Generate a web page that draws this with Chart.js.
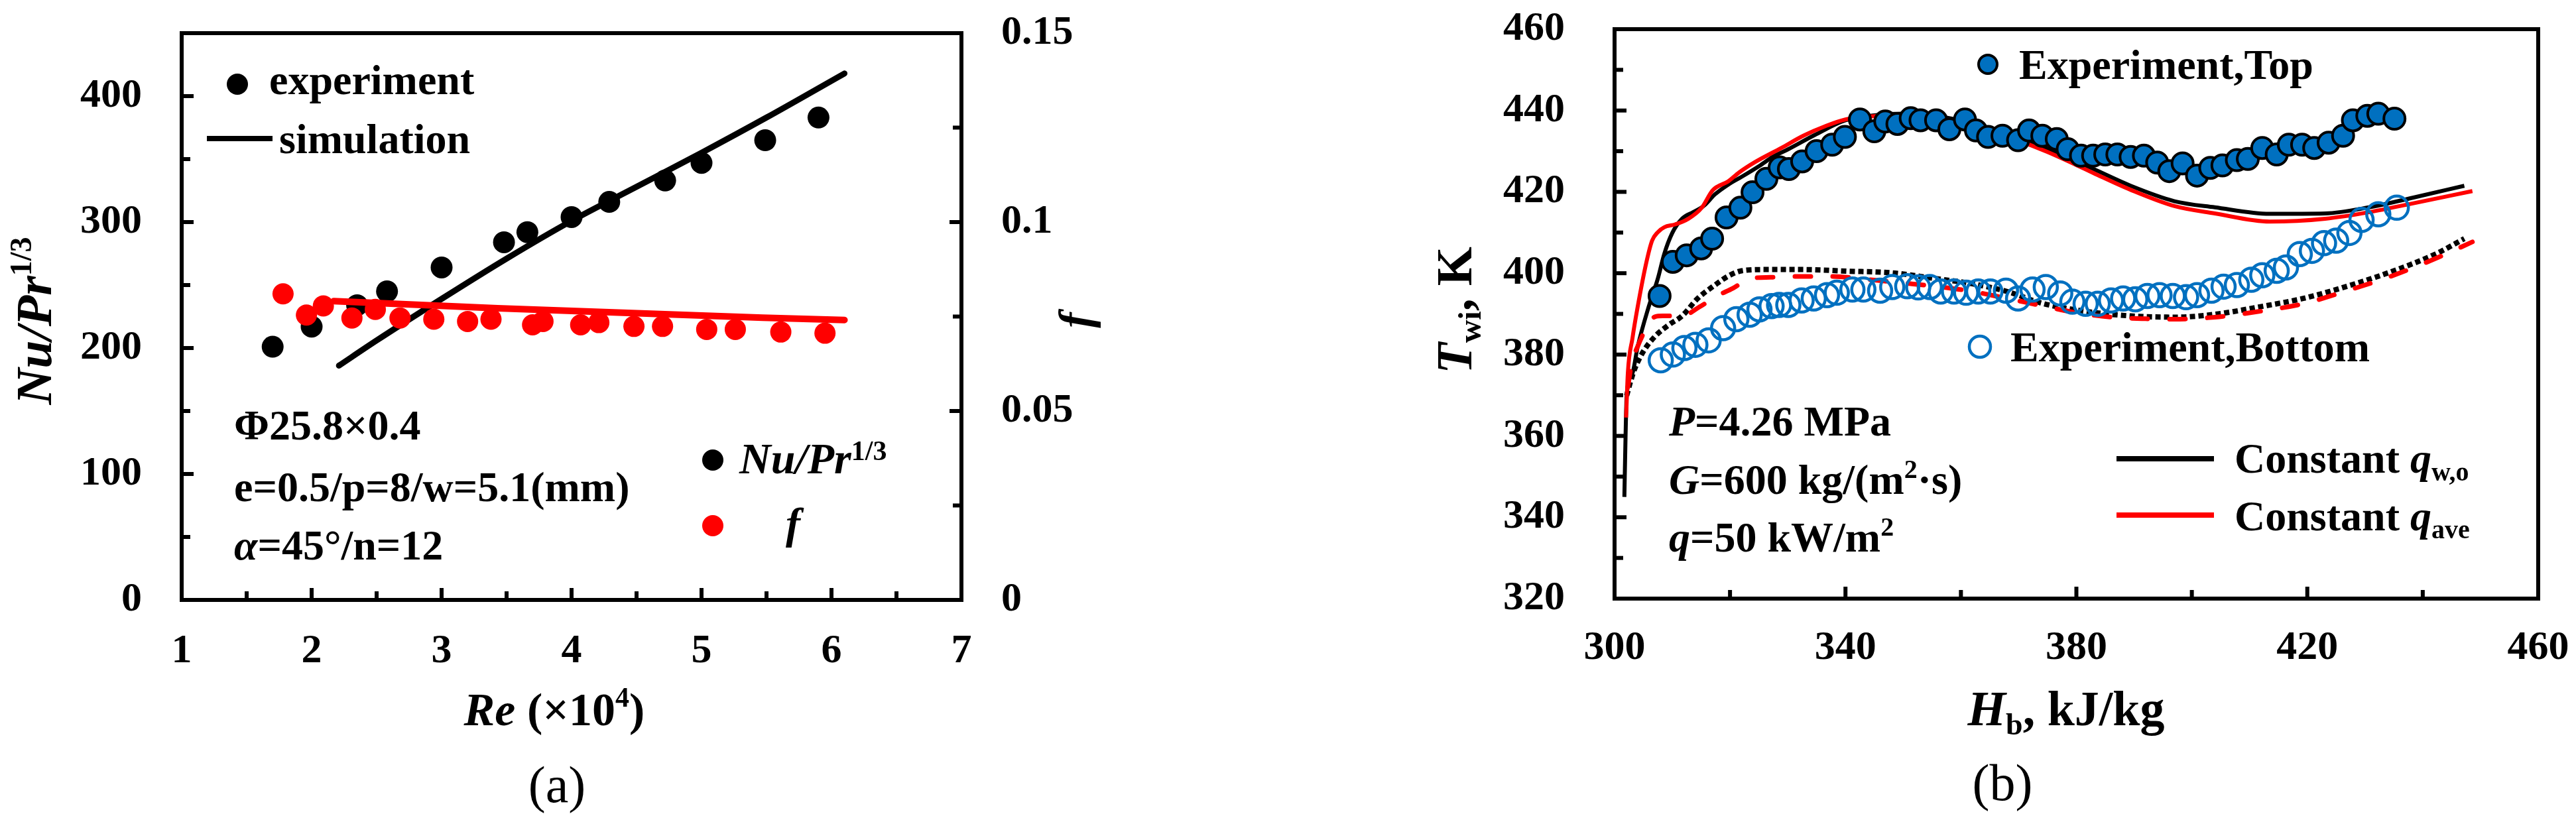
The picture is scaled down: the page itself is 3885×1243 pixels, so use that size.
<!DOCTYPE html>
<html><head><meta charset="utf-8">
<script src="https://cdn.jsdelivr.net/npm/chart.js@4.4.1/dist/chart.umd.min.js"></script>
<style>
html,body{margin:0;padding:0;background:#fff;width:3885px;height:1243px;overflow:hidden}
#wa{position:absolute;left:0;top:0;width:1940px;height:1243px}
#wb{position:absolute;left:1940px;top:0;width:1945px;height:1243px}
</style></head><body>
<div id="wa"><canvas id="ca"></canvas></div>
<div id="wb"><canvas id="cb"></canvas></div>
<script>
// ---------- Panel (a) data ----------
const aExpRe = [1.70, 2.00, 2.35, 2.58, 3.00, 3.48, 3.66, 4.00, 4.29, 4.72, 5.00, 5.49, 5.90];
const aExpNu = [201, 217, 234, 245, 264, 284, 292, 304, 316, 333, 347, 365, 383];
const aSimRe = [2.21, 2.50, 3.00, 3.50, 4.00, 4.50, 5.00, 5.50, 6.10];
const aSimNu = [186, 206, 239, 271, 301, 328, 355, 383, 418];
const aFRe = [1.78, 1.96, 2.09, 2.31, 2.49, 2.68, 2.94, 3.20, 3.38, 3.70, 3.78, 4.07, 4.21, 4.48, 4.70, 5.04, 5.26, 5.61, 5.95];
const aF   = [0.0810, 0.0754, 0.0778, 0.0746, 0.0769, 0.0746, 0.0743, 0.0737, 0.0743, 0.0728, 0.0737, 0.0728, 0.0734, 0.0724, 0.0724, 0.0716, 0.0716, 0.0709, 0.0706];
const aSimFRe = [2.17, 3.43, 5.47, 6.10];
const aSimF   = [0.0791, 0.0772, 0.0747, 0.0741];
const aXMajor = [1, 2, 3, 4, 5, 6, 7];
const aXMinor = [1.5, 2.5, 3.5, 4.5, 5.5, 6.5];
const aYMajor = [0, 100, 200, 300, 400];
const aYMinor = [50, 150, 250, 350, 450];
const aY1Major = [0, 0.05, 0.1, 0.15];
const aY1Labels = ['0', '0.05', '0.1', '0.15'];
const aY1Minor = [0.025, 0.075, 0.125];

// ---------- Panel (b) data ----------
const bTopH = [307.8,310.1,312.5,315.0,316.9,319.4,321.8,323.9,326.3,328.6,330.2,332.5,335.0,337.7,339.9,342.5,345.0,346.9,349.0,351.3,353.0,355.7,358.0,360.7,362.6,364.7,367.2,369.9,371.8,374.1,376.6,378.5,380.8,382.9,385.0,387.1,389.4,391.7,394.0,396.1,398.4,400.9,403.2,405.3,407.8,409.7,412.2,414.7,416.8,419.1,421.2,423.7,426.2,427.9,430.4,432.3,435.1];
const bTopT = [394.4,402.8,404.4,406.1,408.5,413.7,416.1,419.9,423.2,426.0,425.6,427.5,430.0,431.6,433.5,437.8,434.9,437.3,436.7,438.1,437.6,437.6,435.4,437.8,435.1,433.5,433.8,432.7,435.1,433.8,433.0,430.5,428.9,428.9,429.2,429.2,428.6,428.9,427.2,425.1,427.0,424.0,425.9,426.5,427.8,428.1,430.8,429.2,431.6,431.6,430.8,432.1,433.8,437.6,438.7,439.2,438.0];
const bBotH = [308.0,310.1,312.1,314.0,316.3,318.8,321.1,323.4,325.1,327.2,328.5,330.1,332.4,334.5,336.8,338.5,341.2,343.1,346.0,348.1,350.7,352.6,354.6,356.5,358.8,360.9,363.0,365.1,367.8,369.9,372.4,374.7,377.2,379.3,381.6,383.7,386.0,388.1,390.2,392.3,394.4,396.7,399.0,400.9,403.4,405.5,407.8,410.3,412.2,414.7,416.3,418.7,420.8,422.9,425.0,427.3,429.4,432.3,435.5];
const bBotT = [378.6,380.0,381.6,382.4,383.5,386.5,388.7,389.8,391.1,391.9,392.2,392.2,393.3,393.8,394.6,395.2,396.0,396.0,395.7,396.6,396.8,396.5,396.6,395.5,395.5,395.2,395.5,395.5,395.7,393.8,396.0,396.6,395.0,393.0,392.5,392.5,393.3,393.8,393.6,394.4,394.6,394.4,394.1,394.6,395.7,396.7,397.1,398.4,399.5,400.6,401.4,404.7,405.5,407.4,408.0,409.9,413.1,414.5,416.1];
const bQwTopH = [301.7,301.9,302.1,303.1,304.0,305.9,307.5,308.6,310.0,311.7,313.6,315.5,317.4,319.7,322.0,325.1,327.4,330.1,334.7,340.0,345,350,355,360,365,370,375,380,383,389.4,397.0,404.0,413.5,423.1,430.7,438.4,447.2];
const bQwTopT = [345.0,359.6,369.9,375.4,381.9,391.7,398.7,404.7,409.9,413.4,415.0,416.6,419.4,421.8,423.7,426.4,428.6,430.5,434.0,437.6,438.8,439.2,438.8,437.5,435.5,433.2,430.6,427.5,425.6,421.5,417.7,416.2,414.6,414.7,416.2,418.6,421.5];
const bQaTopH = [302.0,302.3,303.1,304.0,305.5,306.5,307.5,308.6,310.5,312.8,315.1,317.0,319.7,321.6,324.3,328.9,332.7,336.6,340.0,345,350,355,360,365,370,375,380,383,389.4,397.0,404.0,413.5,423.1,430.7,438.4,448.6];
const bQaTopT = [364.5,375.4,384.0,391.7,402.6,408.0,410.1,411.3,412.0,413.4,416.1,420.4,422.6,424.8,427.3,430.8,433.8,436.2,437.8,438.6,438.9,438.4,437.1,435.0,432.6,429.8,426.6,424.6,420.5,416.5,414.7,412.7,413.4,415.0,417.2,420.2];
const bQwBotH = [302.1,302.8,303.5,305.0,307.1,309.4,311.7,314.4,317.4,319.7,322.0,325.8,332.7,340.4,348.0,355,362,368,374.1,381.7,389.4,397.1,404.0,411.6,419.3,426.9,434.6,442.2,447.2];
const bQwBotT = [369.9,373.5,376.5,380.8,384.6,387.3,389.5,393.8,397.1,399.3,400.6,400.9,400.9,400.5,400.1,398.8,397.4,395.5,392.6,390.6,389.5,389.2,389.9,391.7,393.8,396.8,400.4,404.7,408.5];
const bQaBotH = [302.3,303.0,304.0,305.7,307.0,308.4,311.9,314.7,317.6,320.5,323.5,327.0,330.4,337.3,345,350,356,362,368,374,380,386,392,397,404.0,411.6,419.3,426.9,434.6,442.2,448.6];
const bQaBotT = [372,378,382,387,389.3,389.5,389.6,391.7,394.3,396.3,398.7,399.0,399.2,399.2,398.3,397.6,396.7,395.5,393.8,392,390.3,389.2,388.8,388.7,389.2,390.6,392.5,395.7,399.3,403.6,407.7];
const bXMajor = [300, 340, 380, 420, 460];
const bXMinor = [320, 360, 400, 440];
const bYMajor = [320, 340, 360, 380, 400, 420, 440, 460];
const bYMinor = [330, 350, 370, 390, 410, 430, 450];

// ---------- helpers ----------
const FAM = '"Liberation Serif", "Times New Roman", Times, serif';
const fnt = (st, sz) => `${st} ${sz}px ${FAM}`;
const RED = '#FF0000', BLUE = '#0070C0', BLK = '#000000';
const pts = (xs, ys) => xs.map((x, i) => ({x: x, y: ys[i]}));
const merged = (a, b) => a.concat(b).sort((p, q) => p - q);

function richWidth(ctx, segs) {
  let w = 0;
  for (const s of segs) { ctx.font = s.f; w += ctx.measureText(s.t).width; }
  return w;
}
function drawRich(ctx, segs, x, y, align) {
  let sx = x;
  if (align === 'center') sx = x - richWidth(ctx, segs) / 2;
  ctx.textAlign = 'left';
  ctx.textBaseline = 'alphabetic';
  for (const s of segs) {
    ctx.font = s.f;
    ctx.fillText(s.t, sx, y + (s.dy || 0));
    sx += ctx.measureText(s.t).width;
  }
}
function drawRotRich(ctx, segs, cx, cy) {
  ctx.save();
  ctx.translate(cx, cy);
  ctx.rotate(-Math.PI / 2);
  drawRich(ctx, segs, 0, 0, 'center');
  ctx.restore();
}
function dot(ctx, x, y, r, fill, stroke, lw) {
  ctx.beginPath();
  ctx.arc(x, y, r, 0, Math.PI * 2);
  if (fill) { ctx.fillStyle = fill; ctx.fill(); }
  if (stroke) { ctx.strokeStyle = stroke; ctx.lineWidth = lw; ctx.stroke(); }
}
function frameAndTicks(chart, spec) {
  const ctx = chart.ctx, a = chart.chartArea;
  ctx.save();
  ctx.strokeStyle = BLK;
  ctx.lineWidth = 6;
  for (const s of spec) {
    const sc = chart.scales[s.id];
    const groups = [[s.major, 18], [s.minor, 13]];
    for (const [vals, len] of groups) {
      for (const v of vals) {
        if (v === sc.min || v === sc.max) continue;
        const p = sc.getPixelForValue(v);
        ctx.beginPath();
        if (s.side === 'bottom') { ctx.moveTo(p, a.bottom); ctx.lineTo(p, a.bottom - len); }
        else if (s.side === 'left') { ctx.moveTo(a.left, p); ctx.lineTo(a.left + len, p); }
        else { ctx.moveTo(a.right, p); ctx.lineTo(a.right - len, p); }
        ctx.stroke();
      }
    }
  }
  ctx.lineJoin = 'miter';
  ctx.strokeRect(a.left, a.top, a.right - a.left, a.bottom - a.top);
  ctx.restore();
}
function tickFont() { return {family: FAM, size: 62, weight: 'bold'}; }
// fix an axis box to a given size and drop the label overflow padding
function fixBox(w, h) {
  return s => {
    if (w !== null) s.width = w;
    if (h !== null) s.height = h;
    s.paddingTop = 0; s.paddingBottom = 0; s.paddingLeft = 0; s.paddingRight = 0;
  };
}

Chart.defaults.animation = false;

// ---------- Chart (a) ----------
const decorA = {
  id: 'decorA',
  afterDraw(chart) {
    frameAndTicks(chart, [
      {id: 'x', side: 'bottom', major: aXMajor, minor: aXMinor},
      {id: 'y', side: 'left', major: aYMajor, minor: aYMinor},
      {id: 'y1', side: 'right', major: aY1Major, minor: aY1Minor}
    ]);
    const ctx = chart.ctx;
    ctx.save();
    ctx.fillStyle = BLK;
    // legend 1
    dot(ctx, 358, 127, 16, BLK);
    ctx.fillStyle = BLK;
    drawRich(ctx, [{t: 'experiment', f: fnt('bold', 64)}], 406, 142);
    ctx.strokeStyle = BLK; ctx.lineWidth = 8; ctx.beginPath(); ctx.moveTo(312, 209); ctx.lineTo(411, 209); ctx.stroke();
    drawRich(ctx, [{t: 'simulation', f: fnt('bold', 64)}], 421, 231);
    // geometry notes
    drawRich(ctx, [{t: '\u03A625.8\u00D70.4', f: fnt('bold', 64)}], 353, 663);
    drawRich(ctx, [{t: 'e=0.5/p=8/w=5.1(mm)', f: fnt('bold', 64)}], 353, 756);
    drawRich(ctx, [{t: '\u03B1', f: fnt('bold italic', 64)}, {t: '=45\u00B0/n=12', f: fnt('bold', 64)}], 353, 844);
    // legend 2
    dot(ctx, 1075, 694, 16, BLK);
    ctx.fillStyle = BLK;
    drawRich(ctx, [{t: 'Nu/Pr', f: fnt('bold italic', 66)}, {t: '1/3', f: fnt('bold', 42), dy: -20}], 1115, 714);
    dot(ctx, 1075, 793, 16, RED);
    ctx.fillStyle = BLK;
    drawRich(ctx, [{t: 'f', f: fnt('bold italic', 66)}], 1185, 812);
    // axis titles
    drawRotRich(ctx, [{t: 'Nu/Pr', f: fnt('bold italic', 76)}, {t: '1/3', f: fnt('bold', 46), dy: -30}], 77, 484);
    drawRotRich(ctx, [{t: 'f', f: fnt('bold italic', 70)}], 1645, 483);
    drawRich(ctx, [{t: 'Re', f: fnt('bold italic', 70)}, {t: ' (\u00D710', f: fnt('bold', 70)}, {t: '4', f: fnt('bold', 42), dy: -28}, {t: ')', f: fnt('bold', 70)}], 836, 1094, 'center');
    drawRich(ctx, [{t: '(a)', f: fnt('normal', 78)}], 840, 1210, 'center');
    ctx.restore();
  }
};

new Chart(document.getElementById('ca'), {
  type: 'scatter',
  data: {datasets: [
    {label: 'f simulation', data: pts(aSimFRe, aSimF), yAxisID: 'y1', showLine: true, borderColor: RED, borderWidth: 10, borderCapStyle: 'round', pointRadius: 0, pointHitRadius: 0, order: 0},
    {label: 'f', data: pts(aFRe, aF), yAxisID: 'y1', pointRadius: 16, backgroundColor: RED, borderColor: RED, pointBorderWidth: 0, order: 1},
    {label: 'simulation', data: pts(aSimRe, aSimNu), yAxisID: 'y', showLine: true, borderColor: BLK, borderWidth: 9, borderCapStyle: 'round', cubicInterpolationMode: 'monotone', pointRadius: 0, pointHitRadius: 0, order: 2},
    {label: 'experiment', data: pts(aExpRe, aExpNu), yAxisID: 'y', pointRadius: 16.5, backgroundColor: BLK, borderColor: BLK, pointBorderWidth: 0, order: 3}
  ]},
  options: {
    responsive: true, maintainAspectRatio: false, devicePixelRatio: 1, events: [],
    layout: {padding: {top: 50, left: 0, right: 0, bottom: 0}, autoPadding: false},
    plugins: {legend: {display: false}, tooltip: {enabled: false}},
    scales: {
      x: {type: 'linear', position: 'bottom', min: 1, max: 7,
        afterBuildTicks: s => { s.ticks = merged(aXMajor, aXMinor).map(v => ({value: v})); },
        ticks: {callback: v => aXMajor.includes(v) ? String(v) : '', font: tickFont(), color: BLK, padding: 41, autoSkip: false, maxRotation: 0, minRotation: 0},
        grid: {display: false, drawTicks: false}, border: {display: false},
        afterFit: fixBox(null, 338)},
      y: {type: 'linear', position: 'left', min: 0, max: 450,
        afterBuildTicks: s => { s.ticks = merged(aYMajor, aYMinor).map(v => ({value: v})); },
        ticks: {callback: v => aYMajor.includes(v) ? String(v) : '', font: tickFont(), color: BLK, padding: 60, autoSkip: false},
        grid: {display: false, drawTicks: false}, border: {display: false},
        afterFit: fixBox(274, null)},
      y1: {type: 'linear', position: 'right', min: 0, max: 0.15,
        afterBuildTicks: s => { s.ticks = merged(aY1Major, aY1Minor).map(v => ({value: v})); },
        ticks: {callback: v => { const i = aY1Major.indexOf(v); return i >= 0 ? aY1Labels[i] : ''; }, font: tickFont(), color: BLK, padding: 60, autoSkip: false},
        grid: {display: false, drawTicks: false}, border: {display: false},
        afterFit: fixBox(490, null)}
    }
  },
  plugins: [decorA]
});

// ---------- Chart (b) ----------
const decorB = {
  id: 'decorB',
  afterDraw(chart) {
    frameAndTicks(chart, [
      {id: 'x', side: 'bottom', major: bXMajor, minor: bXMinor},
      {id: 'y', side: 'left', major: bYMajor, minor: bYMinor}
    ]);
    const ctx = chart.ctx;
    ctx.save();
    // legends for experiments
    dot(ctx, 1058, 97, 14, BLUE, BLK, 4);
    ctx.fillStyle = BLK;
    drawRich(ctx, [{t: 'Experiment,Top', f: fnt('bold', 64)}], 1105, 119);
    dot(ctx, 1046, 523, 16, null, BLUE, 4.5);
    ctx.fillStyle = BLK;
    drawRich(ctx, [{t: 'Experiment,Bottom', f: fnt('bold', 64)}], 1092, 545);
    // legend for simulations
    ctx.lineWidth = 8; ctx.lineCap = 'butt';
    ctx.strokeStyle = BLK; ctx.beginPath(); ctx.moveTo(1252, 692); ctx.lineTo(1399, 692); ctx.stroke();
    ctx.strokeStyle = RED; ctx.beginPath(); ctx.moveTo(1252, 777); ctx.lineTo(1399, 777); ctx.stroke();
    ctx.fillStyle = BLK;
    drawRich(ctx, [{t: 'Constant ', f: fnt('bold', 64)}, {t: 'q', f: fnt('bold italic', 64)}, {t: 'w,o', f: fnt('bold', 40), dy: 12}], 1430, 713);
    drawRich(ctx, [{t: 'Constant ', f: fnt('bold', 64)}, {t: 'q', f: fnt('bold italic', 64)}, {t: 'ave', f: fnt('bold', 40), dy: 12}], 1430, 800);
    // conditions
    drawRich(ctx, [{t: 'P', f: fnt('bold italic', 64)}, {t: '=4.26 MPa', f: fnt('bold', 64)}], 577, 657);
    drawRich(ctx, [{t: 'G', f: fnt('bold italic', 64)}, {t: '=600 kg/(m', f: fnt('bold', 64)}, {t: '2', f: fnt('bold', 40), dy: -24}, {t: '\u00B7s)', f: fnt('bold', 64)}], 577, 745);
    drawRich(ctx, [{t: 'q', f: fnt('bold italic', 64)}, {t: '=50 kW/m', f: fnt('bold', 64)}, {t: '2', f: fnt('bold', 40), dy: -24}], 577, 832);
    // axis titles
    drawRotRich(ctx, [{t: 'T', f: fnt('bold italic', 76)}, {t: 'wi', f: fnt('bold', 48), dy: 14}, {t: ', K', f: fnt('bold', 76)}], 279, 468);
    drawRich(ctx, [{t: 'H', f: fnt('bold italic', 74)}, {t: 'b', f: fnt('bold', 46), dy: 14}, {t: ', kJ/kg', f: fnt('bold', 74)}], 1176, 1094, 'center');
    drawRich(ctx, [{t: '(b)', f: fnt('normal', 78)}], 1080, 1207, 'center');
    ctx.restore();
  }
};

new Chart(document.getElementById('cb'), {
  type: 'scatter',
  data: {datasets: [
    {label: 'Experiment,Top', data: pts(bTopH, bTopT), pointRadius: 16, backgroundColor: BLUE, borderColor: BLK, pointBorderWidth: 4, order: 0},
    {label: 'Experiment,Bottom', data: pts(bBotH, bBotT), pointRadius: 17.5, backgroundColor: 'rgba(0,0,0,0)', borderColor: BLUE, pointBorderWidth: 4.5, order: 1},
    {label: 'Constant q_ave (top)', data: pts(bQaTopH, bQaTopT), showLine: true, borderColor: RED, borderWidth: 6, cubicInterpolationMode: 'monotone', pointRadius: 0, pointHitRadius: 0, order: 2},
    {label: 'Constant q_ave (bottom)', data: pts(bQaBotH, bQaBotT), showLine: true, borderColor: RED, borderWidth: 7, borderDash: [24, 33], borderCapStyle: 'round', cubicInterpolationMode: 'monotone', pointRadius: 0, pointHitRadius: 0, order: 3},
    {label: 'Constant q_w,o (top)', data: pts(bQwTopH, bQwTopT), showLine: true, borderColor: BLK, borderWidth: 6, cubicInterpolationMode: 'monotone', pointRadius: 0, pointHitRadius: 0, order: 4},
    {label: 'Constant q_w,o (bottom)', data: pts(bQwBotH, bQwBotT), showLine: true, borderColor: BLK, borderWidth: 8, borderDash: [8, 5], cubicInterpolationMode: 'monotone', pointRadius: 0, pointHitRadius: 0, order: 5}
  ]},
  options: {
    responsive: true, maintainAspectRatio: false, devicePixelRatio: 1, events: [],
    layout: {padding: {top: 44, left: 0, right: 57, bottom: 0}, autoPadding: false},
    plugins: {legend: {display: false}, tooltip: {enabled: false}},
    scales: {
      x: {type: 'linear', position: 'bottom', min: 300, max: 460,
        afterBuildTicks: s => { s.ticks = merged(bXMajor, bXMinor).map(v => ({value: v})); },
        ticks: {callback: v => bXMajor.includes(v) ? String(v) : '', font: tickFont(), color: BLK, padding: 38, autoSkip: false, maxRotation: 0, minRotation: 0},
        grid: {display: false, drawTicks: false}, border: {display: false},
        afterFit: fixBox(null, 340)},
      y: {type: 'linear', position: 'left', min: 320, max: 460,
        afterBuildTicks: s => { s.ticks = merged(bYMajor, bYMinor).map(v => ({value: v})); },
        ticks: {callback: v => bYMajor.includes(v) ? String(v) : '', font: tickFont(), color: BLK, padding: 75, autoSkip: false},
        grid: {display: false, drawTicks: false}, border: {display: false},
        afterFit: fixBox(495, null)}
    }
  },
  plugins: [decorB]
});
</script>
</body></html>
